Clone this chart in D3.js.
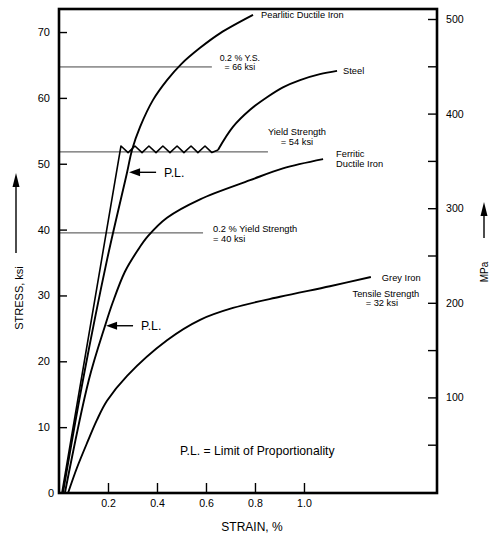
<!DOCTYPE html>
<html>
<head>
<meta charset="utf-8">
<script src="https://cdn.jsdelivr.net/npm/d3@7"></script>
<style>
html, body { margin: 0; padding: 0; background: #fff; }
svg { display: block; font-family: "Liberation Sans", Arial, Helvetica, sans-serif; }
</style>
</head>
<body>
<svg id="chart" width="489" height="535"></svg>
<script>
// axis ticks
var stressTicks = [0, 10, 20, 30, 40, 50, 60, 70];
var strainTicks = [0.2, 0.4, 0.6, 0.8, 1.0];
var mpaTicks = [100, 200, 300, 400, 500];
var mpaMinorTicks = [50, 150, 250, 350, 450];

// [strain %, stress ksi]
var pearlitic = [[0.016, 0], [0.098, 17.2], [0.196, 35.4], [0.278, 48.7], [0.298, 52.1],
  [0.331, 55.6], [0.384, 59.7], [0.441, 62.7], [0.498, 65.1], [0.576, 67.6],
  [0.657, 69.8], [0.792, 72.6]];
var steelElastic = [[0.012, 0], [0.253, 52.7]];
var steelYield = [[0.253, 52.7], [0.282, 51.7], [0.310, 52.7], [0.339, 51.7], [0.367, 52.7],
  [0.396, 51.7], [0.424, 52.7], [0.453, 51.7], [0.482, 52.7], [0.510, 51.7],
  [0.539, 52.7], [0.567, 51.7], [0.596, 52.7], [0.624, 51.7], [0.649, 52.1]];
var steelHardening = [[0.649, 52.1], [0.710, 55.6], [0.780, 58.2], [0.849, 60.1],
  [0.914, 61.6], [0.984, 62.7], [1.065, 63.6], [1.135, 64.1]];
var ferritic = [[0.024, 0], [0.122, 17.2], [0.188, 25.4], [0.220, 29.0],
  [0.269, 33.6], [0.322, 36.9], [0.363, 39.0], [0.441, 41.8], [0.576, 44.6],
  [0.780, 47.5], [0.914, 49.3], [1.078, 50.7]];
var grey = [[0.037, 0], [0.073, 3.8], [0.118, 7.9], [0.155, 11.1], [0.196, 14.0],
  [0.278, 17.8], [0.441, 23.2], [0.576, 26.3], [0.710, 28.1], [0.902, 29.8],
  [1.106, 31.4], [1.273, 32.8]];

// reference strength lines: stress, strain where the line stops
var yieldLines = [[64.7, 0.624], [51.8, 0.853], [39.5, 0.588]];
// limits of proportionality [strain, stress]
var plPoints = [[0.282, 48.7], [0.188, 25.4]];

var svg = d3.select("#chart");

var x = d3.scaleLinear().domain([0, 1.543]).range([59, 437]);
var y = d3.scaleLinear().domain([0, 73.5]).range([493, 9]);
var mpa = d3.scaleLinear().domain([0, 500]).range([492, 19]);

var line = d3.line().x(function (d) { return x(d[0]); }).y(function (d) { return y(d[1]); });
var smooth = d3.line().x(function (d) { return x(d[0]); }).y(function (d) { return y(d[1]); })
  .curve(d3.curveCatmullRom.alpha(0.5));

// reference lines
svg.append("g").selectAll("line").data(yieldLines).enter().append("line")
  .attr("x1", x(0)).attr("x2", function (d) { return x(d[1]); })
  .attr("y1", function (d) { return y(d[0]); }).attr("y2", function (d) { return y(d[0]); })
  .attr("stroke", "#444").attr("stroke-width", 1);

// curves
var curves = svg.append("g").attr("fill", "none").attr("stroke", "#000").attr("stroke-width", 1.9)
  .attr("stroke-linejoin", "round");
[pearlitic, ferritic, grey, steelHardening].forEach(function (s) {
  curves.append("path").attr("d", smooth(s));
});
curves.append("path").attr("d", line(steelElastic.concat(steelYield.slice(1)))).attr("stroke-width", 1.6);

// frame
svg.append("rect").attr("x", 59).attr("y", 9).attr("width", 378).attr("height", 484)
  .attr("fill", "none").attr("stroke", "#000").attr("stroke-width", 2.6);

// axes
var leftAxis = svg.append("g").attr("transform", "translate(59,0)")
  .call(d3.axisLeft(y).tickValues(stressTicks).tickSizeInner(-8).tickSizeOuter(0).tickPadding(9));
var bottomAxis = svg.append("g").attr("transform", "translate(0,493)")
  .call(d3.axisBottom(x).tickValues(strainTicks).tickFormat(d3.format(".1f"))
    .tickSizeInner(-10).tickSizeOuter(0).tickPadding(6));
var rightAxis = svg.append("g").attr("transform", "translate(437,0)")
  .call(d3.axisRight(mpa).tickValues(mpaTicks).tickSizeInner(-9).tickSizeOuter(0).tickPadding(9));
var rightMinor = svg.append("g").attr("transform", "translate(437,0)")
  .call(d3.axisRight(mpa).tickValues(mpaMinorTicks).tickFormat("").tickSizeInner(-9).tickSizeOuter(0));

[leftAxis, bottomAxis, rightAxis, rightMinor].forEach(function (g) {
  g.select(".domain").remove();
  g.selectAll(".tick line").attr("stroke", "#000").attr("stroke-width", 1.4);
  g.selectAll(".tick text").attr("fill", "#000").attr("font-family", "Liberation Sans, Arial, sans-serif")
    .attr("font-size", 10.6);
});
leftAxis.selectAll(".tick").filter(function (d) { return d === 0; }).select("line").remove();
leftAxis.selectAll(".tick").filter(function (d) { return d === 0; }).select("text").attr("x", -5);
leftAxis.selectAll(".tick text").attr("font-size", 11);

// axis titles
function vArrow(xp, tip, tail) {
  svg.append("line").attr("x1", xp).attr("x2", xp).attr("y1", tip + 8).attr("y2", tail)
    .attr("stroke", "#000").attr("stroke-width", 1.4);
  svg.append("path").attr("d", "M" + xp + "," + tip + "L" + (xp - 3.5) + "," + (tip + 14) + "L" + (xp + 3.5) + "," + (tip + 14) + "Z")
    .attr("fill", "#000");
}
function hArrow(tipX, yp, len) {
  svg.append("line").attr("x1", tipX + 6).attr("x2", tipX + len).attr("y1", yp).attr("y2", yp)
    .attr("stroke", "#000").attr("stroke-width", 1.4);
  svg.append("path").attr("d", "M" + tipX + "," + yp + "L" + (tipX + 11) + "," + (yp - 4) + "L" + (tipX + 11) + "," + (yp + 4) + "Z")
    .attr("fill", "#000");
}

vArrow(16, 173, 253);
svg.append("text").attr("transform", "translate(22.5,298) rotate(-90)").attr("text-anchor", "middle")
  .attr("font-size", 11).text("STRESS, ksi");
vArrow(484, 202, 238);
svg.append("text").attr("transform", "translate(488,272) rotate(-90)").attr("text-anchor", "middle")
  .attr("font-size", 10).text("MPa");
svg.append("text").attr("x", 252).attr("y", 531).attr("text-anchor", "middle")
  .attr("font-size", 12).text("STRAIN, %");

// P.L. markers
plPoints.forEach(function (p) {
  var tx = x(p[0]) + 1, ty = y(p[1]);
  hArrow(tx, ty, 27);
  svg.append("text").attr("x", tx + 35).attr("y", ty + 4.3).attr("font-size", 12.3).text("P.L.");
});

// curve labels
var small = 9.3;
function label(xp, yp, txt, anchor, size) {
  svg.append("text").attr("x", xp).attr("y", yp).attr("font-size", size || small)
    .attr("text-anchor", anchor || "start").text(txt);
}
var pe = pearlitic[pearlitic.length - 1], st = steelHardening[steelHardening.length - 1],
  fe = ferritic[ferritic.length - 1], gr = grey[grey.length - 1];
label(x(pe[0]) + 8, y(pe[1]) + 3.5, "Pearlitic Ductile Iron");
label(x(st[0]) + 6, y(st[1]) + 3.5, "Steel");
label(x(fe[0]) + 13, y(fe[1]) - 2.5, "Ferritic");
label(x(fe[0]) + 13, y(fe[1]) + 7.5, "Ductile Iron");
label(x(gr[0]) + 11, y(gr[1]) + 3.5, "Grey Iron");
label(x(gr[0]) + 15, y(gr[1]) + 19.5, "Tensile Strength", "middle");
label(x(gr[0]) + 11, y(gr[1]) + 29, "= 32 ksi", "middle");

var yl = yieldLines;
label(x(yl[0][1]) + 28, y(yl[0][0]) - 5.5, "0.2 % Y.S.", "middle", 8.8);
label(x(yl[0][1]) + 28, y(yl[0][0]) + 3.5, "= 66 ksi", "middle", 8.8);
label(x(yl[1][1]) + 29, y(yl[1][0]) - 16.5, "Yield Strength", "middle");
label(x(yl[1][1]) + 29, y(yl[1][0]) - 6.5, "= 54 ksi", "middle");
label(x(yl[2][1]) + 10, y(yl[2][0]) - 0.5, "0.2 % Yield Strength");
label(x(yl[2][1]) + 10, y(yl[2][0]) + 9.5, "= 40 ksi");

svg.append("text").attr("x", 180).attr("y", 454.5).attr("font-size", 12.2)
  .text("P.L. = Limit of Proportionality");
</script>
</body>
</html>
